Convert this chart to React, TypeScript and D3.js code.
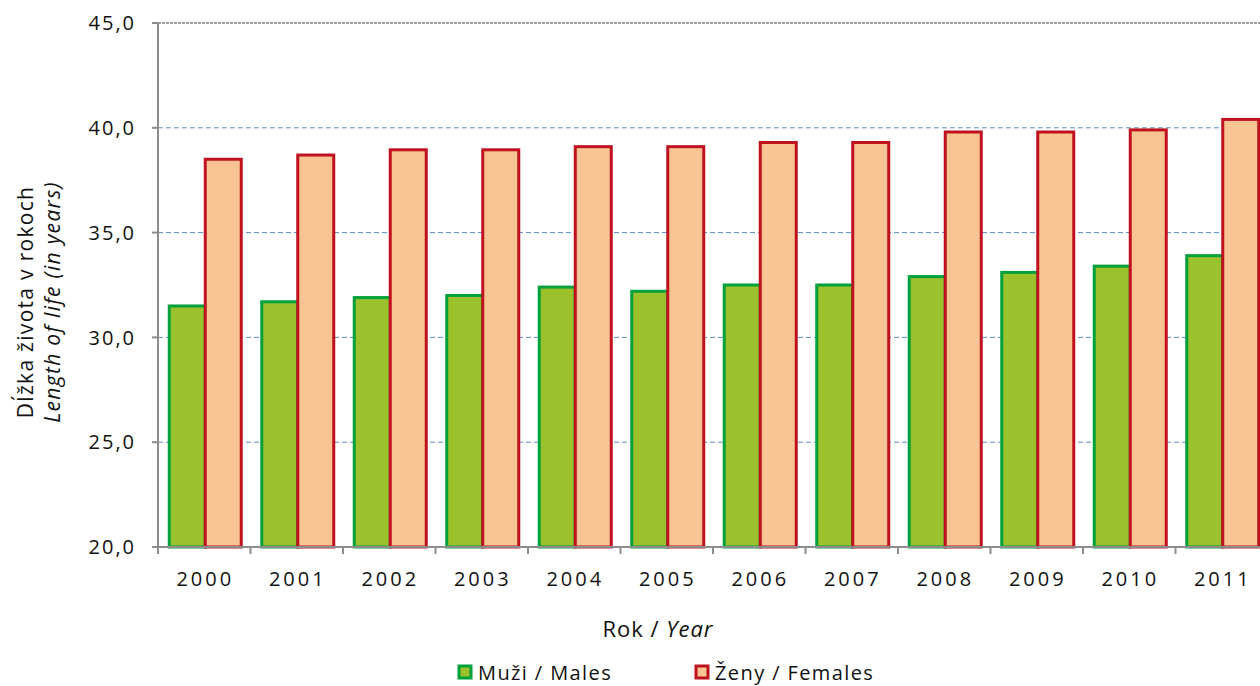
import React from "react";
import * as d3 from "d3";

const years = ["2000","2001","2002","2003","2004","2005","2006","2007","2008","2009","2010","2011"];
const males = [31.5,31.7,31.9,32.0,32.4,32.2,32.5,32.5,32.9,33.1,33.4,33.9];
const females = [38.5,38.7,38.95,38.95,39.1,39.1,39.3,39.3,39.8,39.8,39.9,40.4];
const yTicks = [20,25,30,35,40,45];

const W = 1260, H = 686;
const M = { left: 158, top: 23, right: 1268, bottom: 547 };
const FONT = "'Open Sans', 'DejaVu Sans', sans-serif";

export default function App() {
  const x = d3.scaleBand<string>().domain(years).range([M.left, M.right]).paddingInner(0).paddingOuter(0);
  const y = d3.scaleLinear().domain([20, 45]).range([M.bottom, M.top]);
  const bw = x.bandwidth();
  const barW = 36;
  const fmt = (v: number) => v.toFixed(1).replace(".", ",");
  return (
    <svg width={W} height={H} style={{ position: "absolute", left: 0, top: 0, background: "#fff" }}>
      {/* grid */}
      {yTicks.filter(t => t > 20).map(t => (
        <line key={"g" + t} x1={M.left} x2={W} y1={y(t)} y2={y(t)}
          stroke={t === 45 ? "#3a3f48" : "#5b8cc8"} strokeWidth={1}
          strokeDasharray={t === 45 ? "3,1" : "5,3"} />
      ))}
      {/* bars */}
      {years.map((yr, i) => {
        const cx = (x(yr) as number) + bw / 2 + 1;
        return (
          <g key={yr}>
            <rect x={cx - barW} y={y(males[i])} width={barW} height={y(20) - y(males[i])}
              fill="#9bc12d" stroke="#00a03a" strokeWidth={3} />
            <rect x={cx} y={y(females[i])} width={barW} height={y(20) - y(females[i])}
              fill="#f8c493" stroke="#c0111f" strokeWidth={3} />
          </g>
        );
      })}
      {/* axes */}
      <line x1={M.left} x2={M.left} y1={M.top} y2={M.bottom} stroke="#8c8c8c" strokeWidth={2} />
      <line x1={M.left} x2={W} y1={M.bottom} y2={M.bottom} stroke="#8c8c8c" strokeWidth={2} />
      {yTicks.map(t => (
        <g key={"t" + t}>
          <line x1={M.left - 6} x2={M.left} y1={y(t)} y2={y(t)} stroke="#8c8c8c" strokeWidth={2} />
          <text x={M.left - 22} y={y(t)} dy="0.36em" textAnchor="end" fontFamily={FONT} fontSize={20} letterSpacing={2} fill="#111">{fmt(t)}</text>
        </g>
      ))}
      {years.map((yr, i) => (
        <g key={"x" + yr}>
          <line x1={x(yr) as number} x2={x(yr) as number} y1={M.bottom} y2={M.bottom + 7} stroke="#8c8c8c" strokeWidth={2} />
          <text x={(x(yr) as number) + bw / 2 + 1} y={586} textAnchor="middle" fontFamily={FONT} fontSize={20} letterSpacing={3} fill="#111">{yr}</text>
        </g>
      ))}
      {/* axis titles */}
      <text x={658} y={637} textAnchor="middle" fontFamily={FONT} fontSize={22} letterSpacing={1} fill="#111">
        Rok / <tspan fontStyle="italic">Year</tspan>
      </text>
      <g transform="translate(0,302) rotate(-90)">
        <text x={0} y={33} textAnchor="middle" fontFamily={FONT} fontSize={21} letterSpacing={1.3} fill="#111">Dĺžka života v rokoch</text>
        <text x={0} y={60} textAnchor="middle" fontFamily={FONT} fontSize={21} letterSpacing={1.3} fontStyle="italic" fill="#111">Length of life (in years)</text>
      </g>
      {/* legend */}
      <rect x={459} y={666} width={12} height={12} fill="#9bc12d" stroke="#00a03a" strokeWidth={3} />
      <text x={478} y={680} fontFamily={FONT} fontSize={20} letterSpacing={1.4} fill="#111">Muži / Males</text>
      <rect x={696} y={666} width={12} height={12} fill="#f8c493" stroke="#c0111f" strokeWidth={3} />
      <text x={715} y={680} fontFamily={FONT} fontSize={20} letterSpacing={1.4} fill="#111">Ženy / Females</text>
    </svg>
  );
}
